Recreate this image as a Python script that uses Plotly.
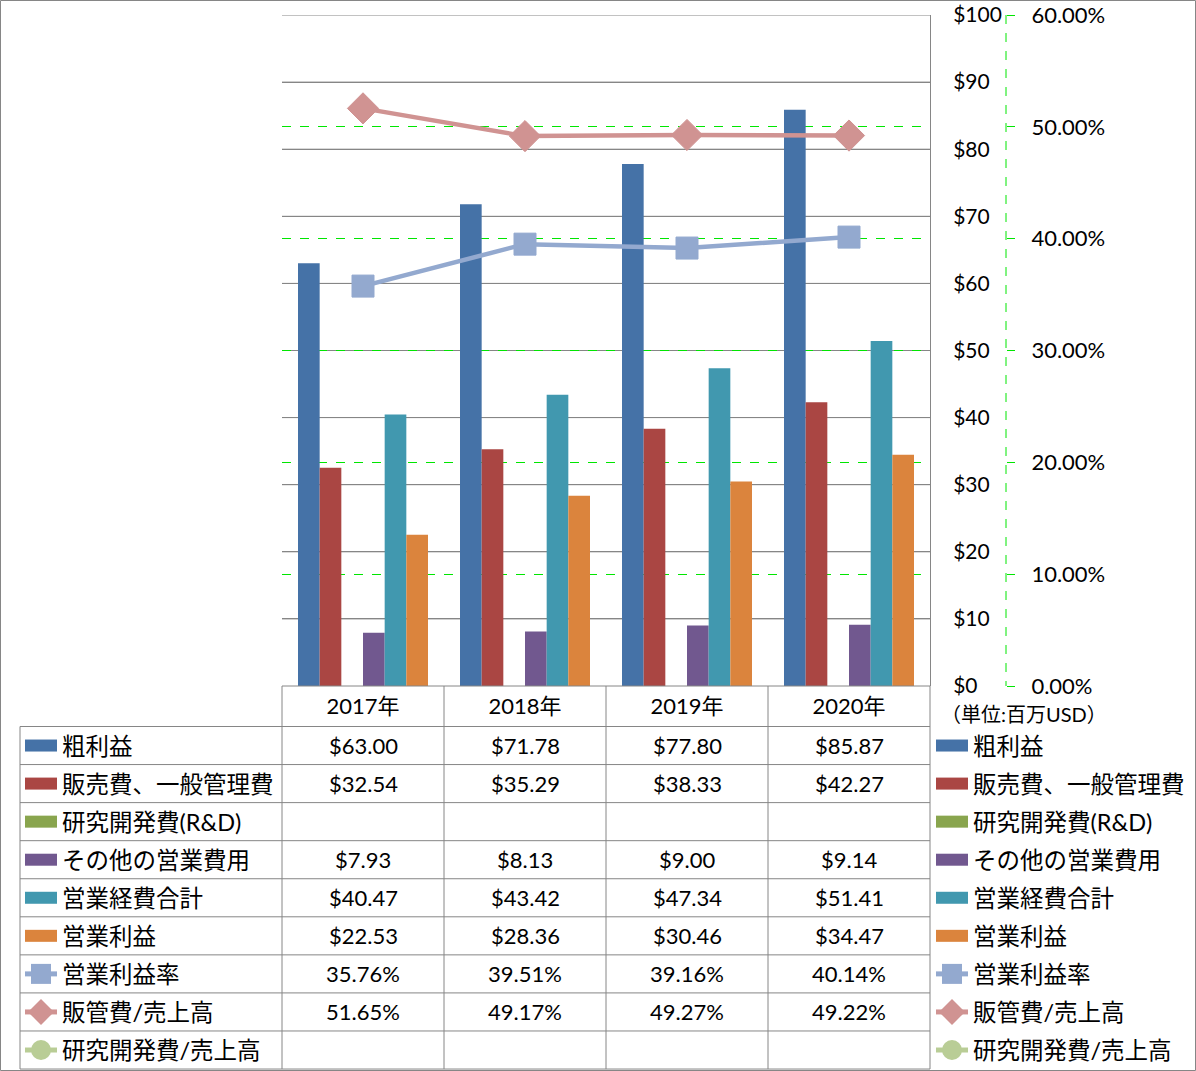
import plotly.graph_objects as go

W, H = 1196, 1071

# ---------------- data ----------------
years = ["2017年", "2018年", "2019年", "2020年"]
gross_profit = [63.00, 71.78, 77.80, 85.87]
sga = [32.54, 35.29, 38.33, 42.27]
rnd = [None, None, None, None]
other_opex = [7.93, 8.13, 9.00, 9.14]
total_opex = [40.47, 43.42, 47.34, 51.41]
op_income = [22.53, 28.36, 30.46, 34.47]
op_margin = [35.76, 39.51, 39.16, 40.14]      # %
sga_ratio = [51.65, 49.17, 49.27, 49.22]      # %
rnd_ratio = [None, None, None, None]          # %

bar_names = ["粗利益", "販売費、一般管理費", "研究開発費(R&D)",
             "その他の営業費用", "営業経費合計", "営業利益"]
line_names = ["営業利益率", "販管費/売上高", "研究開発費/売上高"]
usd_ticks = [0, 10, 20, 30, 40, 50, 60, 70, 80, 90, 100]
usd_tick_labels = ["$0", "$10", "$20", "$30", "$40", "$50",
                   "$60", "$70", "$80", "$90", "$100"]
pct_ticks = [0, 10, 20, 30, 40, 50, 60]
pct_tick_labels = ["0.00%", "10.00%", "20.00%", "30.00%",
                   "40.00%", "50.00%", "60.00%"]
unit_label = "（単位:百万USD）"

# ---------------- styles ----------------
bar_series = [gross_profit, sga, rnd, other_opex, total_opex, op_income]
bar_colors = ["#4572A7", "#AA4643", "#89A54E", "#71588F", "#4198AF", "#DB843D"]
line_series = [op_margin, sga_ratio, rnd_ratio]
line_colors = ["#93A9CF", "#D09392", "#B9CD96"]
line_symbols = ["square", "diamond", "circle"]
line_msizes = [22, 24, 20]

FONT = "Lato, 'Noto Sans CJK JP', sans-serif"
GRID = "#868686"
LIME = "#00E600"


def X(px):
    return px / W


def Y(py):
    return 1 - py / H


fig = go.Figure()

for name, vals, col in zip(bar_names, bar_series, bar_colors):
    fig.add_trace(go.Bar(x=years, y=vals, name=name, yaxis="y",
                         marker=dict(color=col, line=dict(width=0)),
                         showlegend=False))

for name, vals, col, sym, ms in zip(line_names, line_series, line_colors,
                                    line_symbols, line_msizes):
    fig.add_trace(go.Scatter(x=years, y=vals, name=name, yaxis="y2",
                             mode="lines+markers",
                             line=dict(color=col, width=4.5),
                             marker=dict(symbol=sym, size=ms, color=col,
                                         line=dict(width=1, color=col)),
                             showlegend=False))

# plot area
px_left, px_right, py_top, py_bottom = 282, 930, 15, 686

shapes = []
annotations = []

# primary gridlines redrawn above the secondary (dashed) grid, below the traces
for t in usd_ticks[1:]:
    shapes.append(dict(type="line", xref="x domain", yref="y", layer="below",
                       x0=0, x1=1, y0=t, y1=t,
                       line=dict(color=GRID, width=1)))

# secondary axis dashed line
shapes.append(dict(type="line", xref="paper", yref="paper",
                   x0=X(1006), x1=X(1006), y0=Y(py_top), y1=Y(py_bottom),
                   line=dict(color=LIME, width=1, dash="dash")))

# ---------------- data table ----------------
row_top = 726.5
row_h = 38.06
n_rows = 9
table_bottom = row_top + row_h * n_rows

shapes.append(dict(type="line", xref="paper", yref="paper",
                   x0=X(px_left), x1=X(px_right), y0=Y(py_bottom), y1=Y(py_bottom),
                   line=dict(color=GRID, width=1)))
for i in range(n_rows + 1):
    yy = row_top + row_h * i
    shapes.append(dict(type="line", xref="paper", yref="paper",
                       x0=X(20), x1=X(px_right), y0=Y(yy), y1=Y(yy),
                       line=dict(color=GRID, width=1)))
col_w = (px_right - px_left) / len(years)
for j in range(len(years) + 1):
    xx = px_left + col_w * j
    shapes.append(dict(type="line", xref="paper", yref="paper",
                       x0=X(xx), x1=X(xx), y0=Y(py_bottom), y1=Y(table_bottom),
                       line=dict(color=GRID, width=1)))
shapes.append(dict(type="line", xref="paper", yref="paper",
                   x0=X(20), x1=X(20), y0=Y(row_top), y1=Y(table_bottom),
                   line=dict(color=GRID, width=1)))
shapes.append(dict(type="rect", xref="paper", yref="paper",
                   x0=X(0.5), x1=X(1195.5), y0=Y(0.5), y1=Y(1070.5),
                   line=dict(color=GRID, width=1)))

all_names = bar_names + line_names
all_series = bar_series + line_series
all_colors = bar_colors + line_colors
is_pct = [False] * len(bar_names) + [True] * len(line_names)


def legend_key(cx_left, cx_right, cy, idx):
    col = all_colors[idx]
    if idx < len(bar_names):
        shapes.append(dict(type="rect", xref="paper", yref="paper",
                           x0=X(cx_left), x1=X(cx_right), y0=Y(cy - 6), y1=Y(cy + 6),
                           fillcolor=col, line=dict(width=0)))
    else:
        k = idx - len(bar_names)
        shapes.append(dict(type="line", xref="paper", yref="paper",
                           x0=X(cx_left), x1=X(cx_right), y0=Y(cy), y1=Y(cy),
                           line=dict(color=col, width=5)))
        cx = (cx_left + cx_right) / 2
        sym = line_symbols[k]
        if sym == "square":
            shapes.append(dict(type="rect", xref="paper", yref="paper",
                               x0=X(cx - 10), x1=X(cx + 10), y0=Y(cy - 10), y1=Y(cy + 10),
                               fillcolor=col, line=dict(width=0)))
        elif sym == "diamond":
            r = 13
            path = (f"M {X(cx - r)},{Y(cy)} L {X(cx)},{Y(cy - r)} "
                    f"L {X(cx + r)},{Y(cy)} L {X(cx)},{Y(cy + r)} Z")
            shapes.append(dict(type="path", xref="paper", yref="paper", path=path,
                               fillcolor=col, line=dict(width=0)))
        else:
            shapes.append(dict(type="circle", xref="paper", yref="paper",
                               x0=X(cx - 10), x1=X(cx + 10), y0=Y(cy - 10), y1=Y(cy + 10),
                               fillcolor=col, line=dict(width=0)))


for i, (name, vals) in enumerate(zip(all_names, all_series)):
    cy = row_top + row_h * (i + 0.5)
    legend_key(25, 57, cy, i)
    annotations.append(dict(xref="paper", yref="paper", x=X(60), y=Y(cy),
                            xanchor="left", yanchor="middle", showarrow=False,
                            text=name, font=dict(size=23.5, family=FONT, color="#000")))
    legend_key(936, 968, cy, i)
    annotations.append(dict(xref="paper", yref="paper", x=X(971), y=Y(cy),
                            xanchor="left", yanchor="middle", showarrow=False,
                            text=name, font=dict(size=23.5, family=FONT, color="#000")))
    for yr, v in zip(years, vals):
        if v is None:
            continue
        txt = f"{v:.2f}%" if is_pct[i] else f"${v:.2f}"
        annotations.append(dict(xref="x", yref="paper", x=yr, y=Y(cy),
                                xanchor="center", yanchor="middle", showarrow=False,
                                text=txt, font=dict(size=22, family=FONT, color="#000")))

annotations.append(dict(xref="paper", yref="paper", x=X(939), y=Y(714),
                        xanchor="left", yanchor="middle", showarrow=False,
                        text=unit_label, font=dict(size=20, family=FONT, color="#000")))

fig.update_layout(
    width=W, height=H,
    margin=dict(l=0, r=0, t=0, b=0, autoexpand=False),
    paper_bgcolor="white", plot_bgcolor="white",
    barmode="group", bargap=32 / 162, bargroupgap=0,
    font=dict(family=FONT, size=21, color="#000"),
    xaxis=dict(domain=[X(px_left), X(px_right)], type="category",
               showgrid=False, showline=False, zeroline=False, ticks="",
               tickfont=dict(size=22), ticklabelstandoff=5, automargin=False),
    yaxis=dict(domain=[Y(py_bottom), Y(py_top)], range=[0, 100],
               tickvals=usd_ticks, ticktext=usd_tick_labels, side="right",
               showgrid=True, gridcolor=GRID, gridwidth=1,
               showline=True, linecolor=GRID, linewidth=1,
               zeroline=False, ticks="", ticklabelstandoff=18,
               tickfont=dict(size=21), automargin=False),
    yaxis2=dict(overlaying="y", side="right", anchor="free", position=X(1006),
                range=[0, 60], tickvals=pct_ticks, ticktext=pct_tick_labels,
                showgrid=True, gridcolor=LIME, gridwidth=1, griddash="dash",
                showline=False, zeroline=False, ticks="outside", ticklen=8,
                tickcolor=LIME, ticklabelstandoff=12, tickfont=dict(size=22),
                automargin=False),
    shapes=shapes,
    annotations=annotations,
)

fig.write_html("out.html")
